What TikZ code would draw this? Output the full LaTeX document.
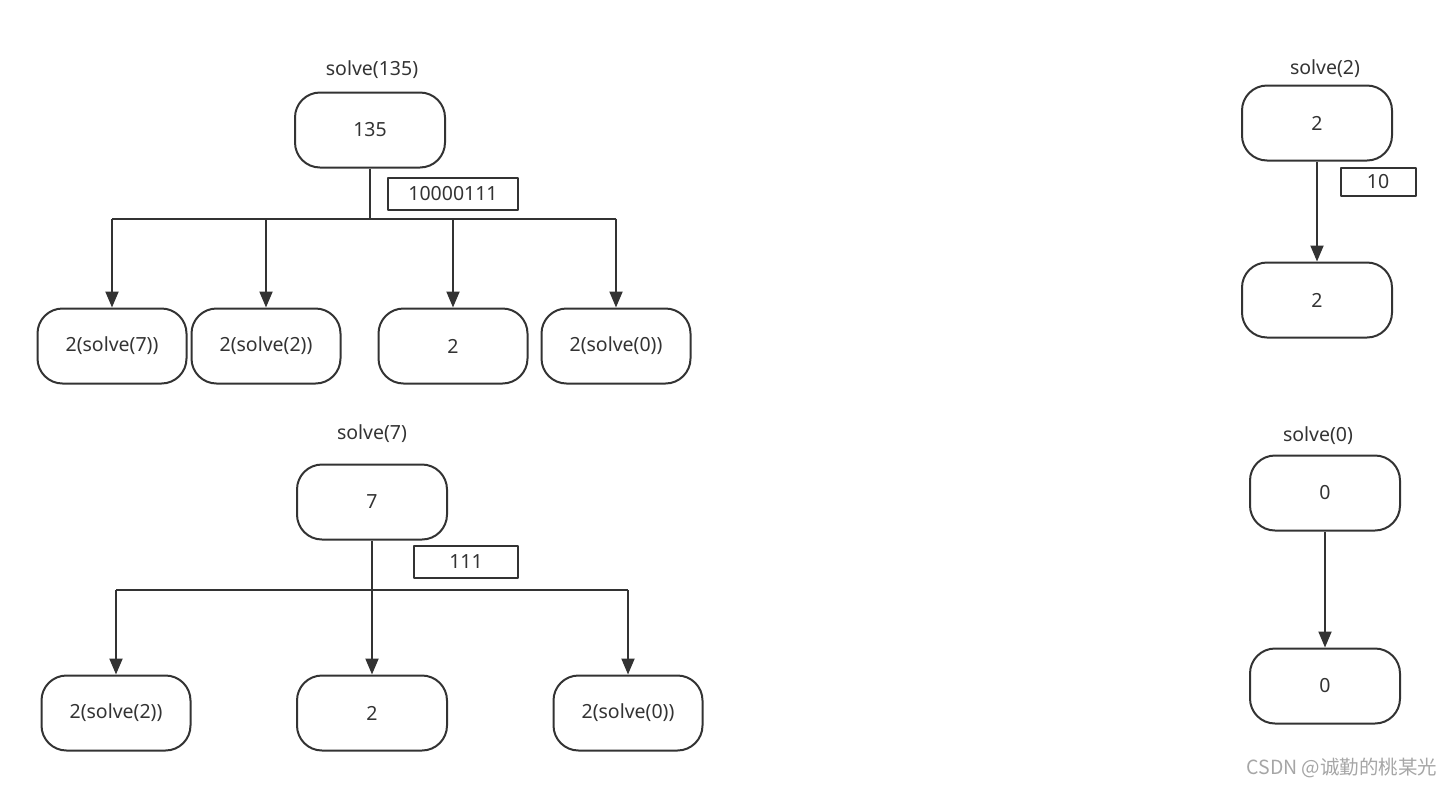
\documentclass[tikz,border=0pt]{standalone}
\usepackage{fontspec}
\setmainfont{Noto Sans}
\newfontfamily\cjk{Noto Sans CJK SC}
\usetikzlibrary{arrows.meta}
\definecolor{ln}{HTML}{333333}
\begin{document}
\begin{tikzpicture}[x=1pt, y=-1pt, line width=2pt, color=ln, line join=round,
	font=\fontsize{19.5}{22}\selectfont, >={Triangle[length=16pt,width=13pt]},
	blk/.style={draw, rounded corners=25pt, minimum width=150pt, minimum height=75pt},
	bits/.style={draw, minimum height=32pt, inner sep=0pt}]
	\useasboundingbox (0,0) rectangle (1453,788);
	% solve(135)
	\node (t135) at (372,70) {solve(135)};
	\node[blk] (n135) at (370,130) {135};
	\node[bits, minimum width=130pt] (b135) at (453,194) {10000111};
	\node[blk, minimum width=149pt] (a1) at (112,346) {2(solve(7))};
	\node[blk, minimum width=149pt] (a2) at (266,346) {2(solve(2))};
	\node[blk, minimum width=149pt] (a3) at (453,346) {2};
	\node[blk, minimum width=149pt] (a4) at (616,346) {2(solve(0))};
	\draw (n135.south) -- ++(0,50) coordinate (j135);
	\draw (j135 -| a1.north) -- (j135 -| a4.north);
	\foreach \c in {a1,a2,a3,a4}
	\draw[->] (j135 -| \c.north) -- (\c.north);
	% solve(7)
	\node (t7) at (372,434) {solve(7)};
	\node[blk] (n7) at (372,502) {7};
	\node[bits, minimum width=104pt] (b7) at (466,562) {111};
	\node[blk, minimum width=149pt] (s1) at (116,713) {2(solve(2))};
	\node[blk] (s2) at (372,713) {2};
	\node[blk, minimum width=149pt] (s3) at (628,713) {2(solve(0))};
	\draw[->] (n7.south) -- (s2.north);
	\coordinate (j7) at (372,590);
	\draw (j7 -| s1.north) -- (j7 -| s3.north);
	\foreach \c in {s1,s3}
	\draw[->] (j7 -| \c.north) -- (\c.north);
	% solve(2)
	\node (t2) at (1325,69) {solve(2)};
	\node[blk] (n2) at (1317,123) {2};
	\node[bits, minimum width=75pt, minimum height=28pt] (b2) at (1378,182) {10};
	\node[blk] (m2) at (1317,300) {2};
	\draw[->] (n2) -- (m2);
	% solve(0)
	\node (t0) at (1318,436) {solve(0)};
	\node[blk] (n0) at (1325,493) {0};
	\node[blk] (m0) at (1325,686) {0};
	\draw[->] (n0) -- (m0);
	\node[text=gray!70, font=\cjk\fontsize{19.5}{22}\selectfont] (wm) at (1342,768) {CSDN @诚勤的桃某光};
\end{tikzpicture}
\end{document}
